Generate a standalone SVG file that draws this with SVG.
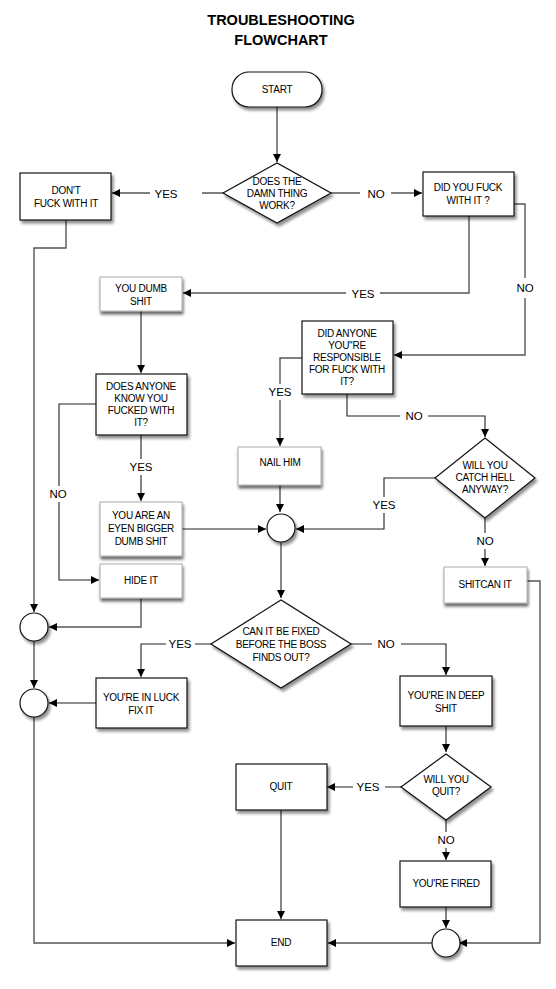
<svg xmlns="http://www.w3.org/2000/svg" width="556" height="989" viewBox="0 0 556 989">
<style>
.t{font-family:"Liberation Sans",Arial,sans-serif;font-size:10px;fill:#000;text-anchor:middle;letter-spacing:-0.25px}
.lb{font-family:"Liberation Sans",Arial,sans-serif;font-size:11.5px;fill:#000;text-anchor:middle}
.ttl{font-family:"Liberation Sans",Arial,sans-serif;font-size:14.5px;font-weight:bold;fill:#000;text-anchor:middle}
.box{fill:#fff;stroke:#111;stroke-width:1.2;filter:url(#sh)}
.soft{fill:#fff;stroke:#aaa;stroke-width:1;filter:url(#sh2)}
.c{fill:none;stroke:#555;stroke-width:1.4}
.cd{fill:none;stroke:#222;stroke-width:1.1}
</style>
<defs>
<filter id="sh" x="-20%" y="-20%" width="150%" height="160%">
<feGaussianBlur in="SourceAlpha" stdDeviation="1.6"/>
<feOffset dx="1.5" dy="2.5" result="b"/>
<feComponentTransfer><feFuncA type="linear" slope="0.45"/></feComponentTransfer>
<feMerge><feMergeNode/><feMergeNode in="SourceGraphic"/></feMerge>
</filter>
<filter id="sh2" x="-20%" y="-20%" width="150%" height="170%">
<feGaussianBlur in="SourceAlpha" stdDeviation="1.8"/>
<feOffset dx="1" dy="3" result="b"/>
<feComponentTransfer><feFuncA type="linear" slope="0.6"/></feComponentTransfer>
<feMerge><feMergeNode/><feMergeNode in="SourceGraphic"/></feMerge>
</filter>
<marker id="a" viewBox="0 0 10 10" refX="10" refY="5" markerWidth="8" markerHeight="8" markerUnits="userSpaceOnUse" orient="auto">
<path d="M0,0 L10,5 L0,10 z" fill="#000"/>
</marker>
</defs>
<rect width="556" height="989" fill="#fff"/>
<text class="ttl" x="281" y="25">TROUBLESHOOTING</text>
<text class="ttl" x="281" y="45">FLOWCHART</text>

<g id="connectors">
<path class="c" d="M277,107 V162" marker-end="url(#a)"/>
<path class="c" d="M223,193 H202 M150,193 H112" marker-end="url(#a)"/>
<text class="lb" x="166" y="198">YES</text>
<path class="c" d="M331,193 H360 M391,193 H422" marker-end="url(#a)"/>
<text class="lb" x="376" y="198">NO</text>
<path class="c" d="M469,216 V293 H380 M346,293 H183" marker-end="url(#a)"/>
<text class="lb" x="363" y="298">YES</text>
<path class="c" d="M514,204 H525 V278 M525,298 V355 H394" marker-end="url(#a)"/>
<text class="lb" x="525" y="292">NO</text>
<path class="cd" d="M141,311 V373" marker-end="url(#a)"/>
<path class="cd" d="M141,435 V459 M141,475 V501" marker-end="url(#a)"/>
<text class="lb" x="141" y="471">YES</text>
<path class="cd" d="M96,404 H59 V486 M59,502 V580 H99" marker-end="url(#a)"/>
<text class="lb" x="58" y="498">NO</text>
<path class="cd" d="M182,529 H266" marker-end="url(#a)"/>
<path class="c" d="M141,598 V627 H49" marker-end="url(#a)"/>
<path class="c" d="M66,220 V248 H34 V612" marker-end="url(#a)"/>
<path class="c" d="M34,641 V688" marker-end="url(#a)"/>
<path class="cd" d="M96,703 H49" marker-end="url(#a)"/>
<path class="c" d="M34,717 V943 H235" marker-end="url(#a)"/>
<path class="c" d="M302,358 H280 V384 M280,400 V446" marker-end="url(#a)"/>
<text class="lb" x="280" y="396">YES</text>
<path class="cd" d="M347,394 V416 H400 M428,416 H485 V437" marker-end="url(#a)"/>
<text class="lb" x="414" y="420">NO</text>
<path class="cd" d="M280,485 V512" marker-end="url(#a)"/>
<path class="cd" d="M435,478 H384 V497 M384,513 V529 H296" marker-end="url(#a)"/>
<text class="lb" x="384" y="509">YES</text>
<path class="cd" d="M485,518 V533 M485,549 V566" marker-end="url(#a)"/>
<text class="lb" x="485" y="545">NO</text>
<path class="c" d="M527,581 H540 V943 H459" marker-end="url(#a)"/>
<path class="c" d="M281,542 V598" marker-end="url(#a)"/>
<path class="cd" d="M211,644 H195 M166,644 H141 V677" marker-end="url(#a)"/>
<text class="lb" x="180" y="648">YES</text>
<path class="cd" d="M351,644 H372 M401,644 H446 V675" marker-end="url(#a)"/>
<text class="lb" x="386" y="648">NO</text>
<path class="cd" d="M446,726 V752" marker-end="url(#a)"/>
<path class="cd" d="M401,787 H385 M353,787 H327" marker-end="url(#a)"/>
<text class="lb" x="368" y="791">YES</text>
<path class="cd" d="M446,819 V832 M446,848 V860" marker-end="url(#a)"/>
<text class="lb" x="446" y="844">NO</text>
<path class="c" d="M281,810 V919" marker-end="url(#a)"/>
<path class="cd" d="M446,907 V928" marker-end="url(#a)"/>
<path class="c" d="M432,943 H328" marker-end="url(#a)"/>
</g>

<g id="start"><rect class="box" x="232" y="72" width="90" height="35" rx="17"/><text class="t" x="277" y="93">START</text></g>
<g id="d-works"><polygon class="box" points="223,193 277,163 331,193 277,223"/><text class="t" x="277" y="185">DOES THE</text><text class="t" x="277" y="197">DAMN THING</text><text class="t" x="277" y="209">WORK?</text></g>
<g id="dont-fuck"><rect class="box" x="20" y="173" width="91" height="47"/><text class="t" x="66" y="194">DON'T</text><text class="t" x="66" y="207">FUCK WITH IT</text></g>
<g id="did-you"><rect class="box" x="423" y="172" width="91" height="44"/><text class="t" x="468" y="191">DID YOU FUCK</text><text class="t" x="468" y="204">WITH IT ?</text></g>
<g id="dumb-shit"><rect class="soft" x="100" y="277" width="82" height="34"/><text class="t" x="141" y="292">YOU DUMB</text><text class="t" x="141" y="305">SHIT</text></g>
<g id="does-anyone"><rect class="box" x="96" y="374" width="91" height="61"/><text class="t" x="141" y="390">DOES ANYONE</text><text class="t" x="141" y="402">KNOW YOU</text><text class="t" x="141" y="414">FUCKED WITH</text><text class="t" x="141" y="426">IT?</text></g>
<g id="did-anyone"><rect class="box" x="302" y="321" width="91" height="73"/><text class="t" x="347" y="337">DID ANYONE</text><text class="t" x="347" y="349">YOU"RE</text><text class="t" x="347" y="361">RESPONSIBLE</text><text class="t" x="347" y="373">FOR FUCK WITH</text><text class="t" x="347" y="385">IT?</text></g>
<g id="nail-him"><rect class="soft" x="238" y="447" width="83" height="38"/><text class="t" x="280" y="466">NAIL HIM</text></g>
<g id="d-catch"><polygon class="box" points="435,478 485,438 535,478 485,518"/><text class="t" x="485" y="469">WILL YOU</text><text class="t" x="485" y="481">CATCH HELL</text><text class="t" x="485" y="493">ANYWAY?</text></g>
<g id="bigger"><rect class="soft" x="100" y="502" width="82" height="54"/><text class="t" x="141" y="519">YOU ARE AN</text><text class="t" x="141" y="532">EYEN BIGGER</text><text class="t" x="141" y="545">DUMB SHIT</text></g>
<g id="hide-it"><rect class="soft" x="100" y="564" width="82" height="34"/><text class="t" x="141" y="584">HIDE IT</text></g>
<g id="shitcan"><rect class="soft" x="444" y="567" width="83" height="36"/><text class="t" x="485" y="588">SHITCAN IT</text></g>
<g id="c1"><circle class="box" cx="281" cy="528" r="14"/></g>
<g id="c2"><circle class="box" cx="34" cy="627" r="14"/></g>
<g id="c3"><circle class="box" cx="34" cy="703" r="14"/></g>
<g id="c4"><circle class="box" cx="446" cy="943" r="14"/></g>
<g id="d-fixed"><polygon class="box" points="211,644 281,600 351,644 281,688"/><text class="t" x="281" y="635">CAN IT BE FIXED</text><text class="t" x="281" y="648">BEFORE THE BOSS</text><text class="t" x="281" y="661">FINDS OUT?</text></g>
<g id="luck"><rect class="box" x="96" y="678" width="91" height="50"/><text class="t" x="141" y="701">YOU'RE IN LUCK</text><text class="t" x="141" y="714">FIX IT</text></g>
<g id="deep"><rect class="box" x="400" y="676" width="92" height="50"/><text class="t" x="446" y="699">YOU'RE IN DEEP</text><text class="t" x="446" y="712">SHIT</text></g>
<g id="d-quit"><polygon class="box" points="401,787 446,754 491,787 446,820"/><text class="t" x="446" y="783">WILL YOU</text><text class="t" x="446" y="795">QUIT?</text></g>
<g id="quit"><rect class="box" x="236" y="764" width="91" height="46"/><text class="t" x="281" y="790">QUIT</text></g>
<g id="fired"><rect class="box" x="400" y="861" width="91" height="46"/><text class="t" x="446" y="887">YOU'RE FIRED</text></g>
<g id="end"><rect class="box" x="236" y="920" width="91" height="46"/><text class="t" x="281" y="946">END</text></g>
</svg>
